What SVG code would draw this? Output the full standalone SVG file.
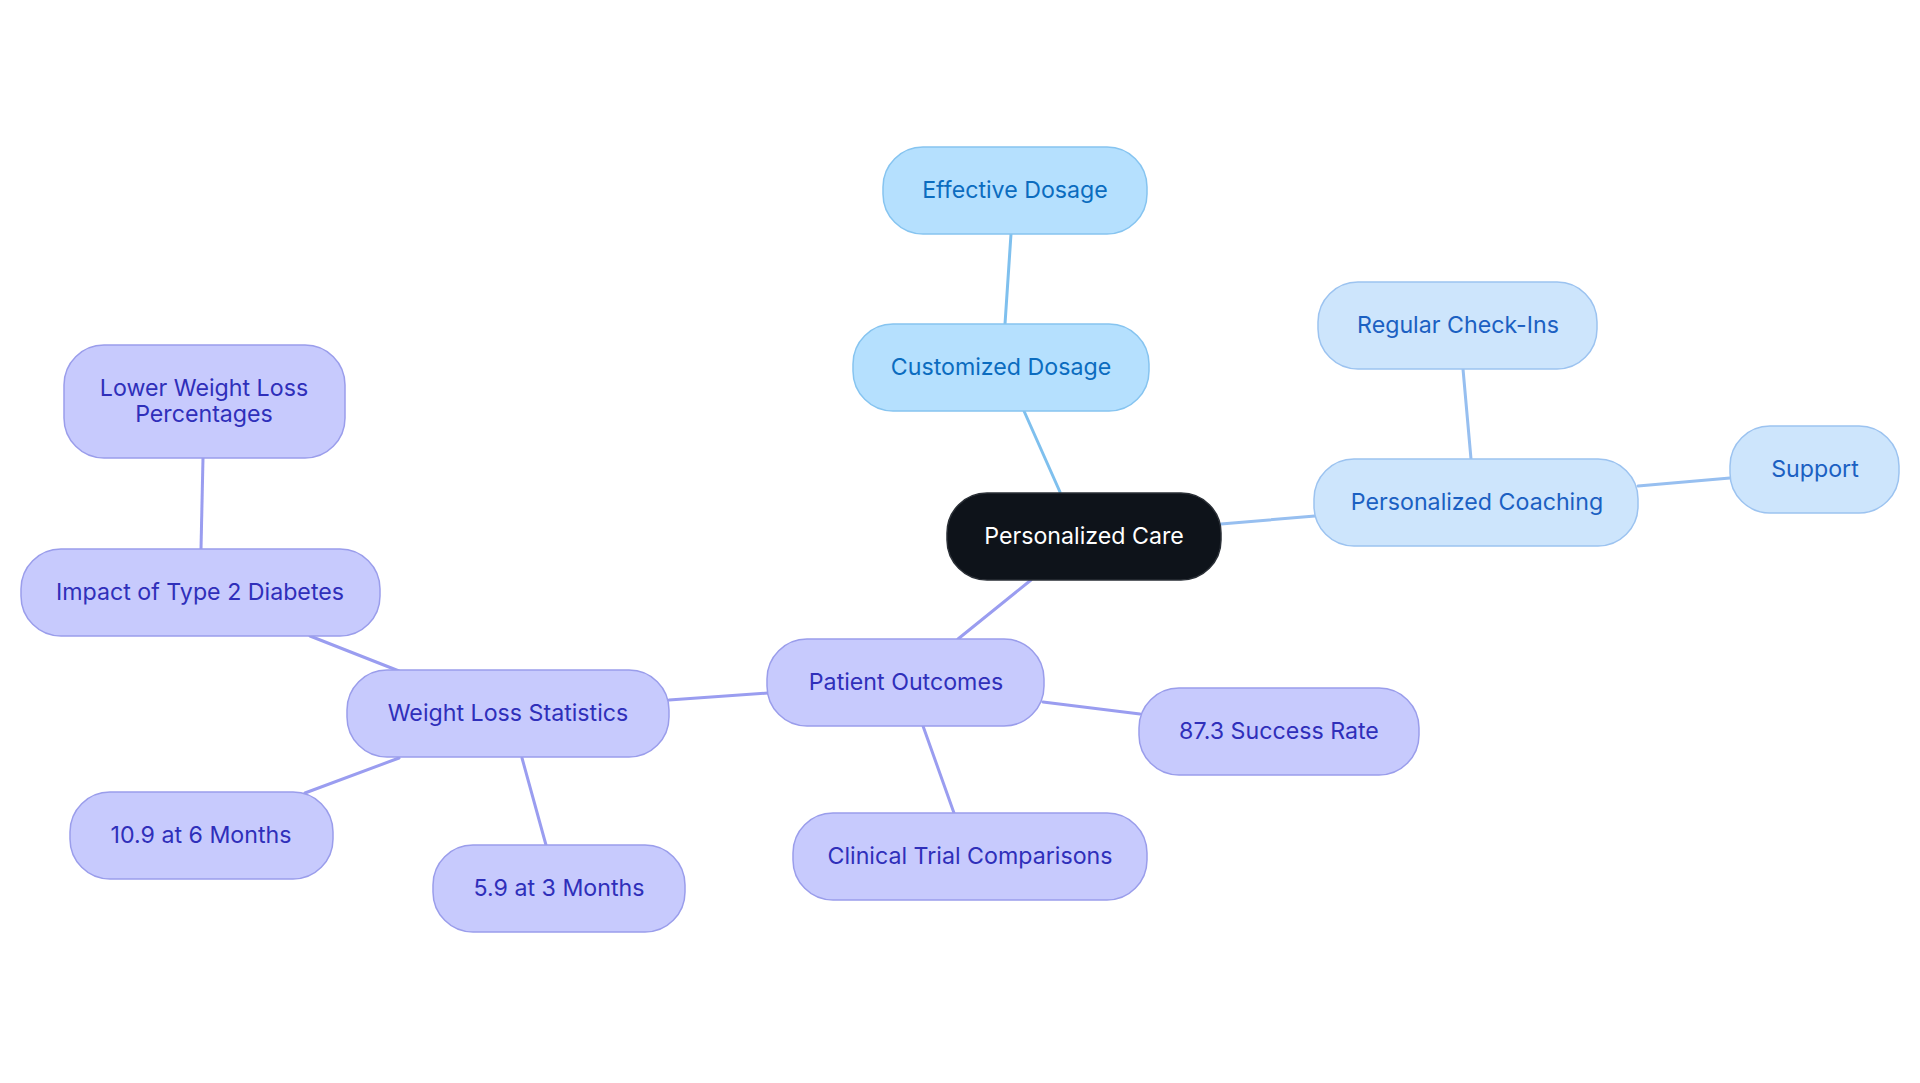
<svg xmlns="http://www.w3.org/2000/svg" width="1920" height="1083" viewBox="0 0 1920 1083">
<style>
text{font-family:Inter,"Noto Sans","Liberation Sans",sans-serif;font-size:23.2px;text-anchor:middle}
.b rect{fill:#b5e0fe;stroke:#86c4f0;stroke-width:1.5}
.b text{fill:#0b6cbf}
.c rect{fill:#cde5fc;stroke:#9cc3f0;stroke-width:1.5}
.c text{fill:#1b60c2}
.p rect{fill:#c7cafd;stroke:#9a9deb;stroke-width:1.5}
.p text{fill:#2f2fba}
.r rect{fill:#0e131a;stroke:#2a2f36;stroke-width:1.5}
.r text{fill:#ffffff}
#edges line{stroke-width:3;stroke-linecap:round}
.eb{stroke:#7fc0ee}
.ec{stroke:#97bff0}
.ep{stroke:#9a9df0}
</style>
<rect width="1920" height="1083" fill="#ffffff"/>
<g id="edges">
<line class="eb" x1="1011" y1="234" x2="1005" y2="324"/>
<line class="eb" x1="1024" y1="411" x2="1060" y2="492"/>
<line class="ec" x1="1221" y1="524" x2="1315" y2="516"/>
<line class="ec" x1="1463" y1="369" x2="1471" y2="459"/>
<line class="ec" x1="1638" y1="486" x2="1730" y2="478"/>
<line class="ep" x1="1031" y1="580" x2="958" y2="639"/>
<line class="ep" x1="1043" y1="702" x2="1140" y2="714"/>
<line class="ep" x1="923" y1="726" x2="954" y2="813"/>
<line class="ep" x1="768" y1="693" x2="669" y2="700"/>
<line class="ep" x1="399" y1="671" x2="310" y2="636"/>
<line class="ep" x1="201" y1="549" x2="203" y2="458"/>
<line class="ep" x1="399" y1="758" x2="305" y2="793"/>
<line class="ep" x1="522" y1="758" x2="546" y2="845"/>
</g>
<g id="n-effective" class="b"><rect x="883" y="147" width="264" height="87" rx="40"/><text x="1015" y="197.5">Effective Dosage</text></g>
<g id="n-customized" class="b"><rect x="853" y="324" width="296" height="87" rx="40"/><text x="1001" y="374.5">Customized Dosage</text></g>
<g id="n-root" class="r"><rect x="947" y="493" width="274" height="87" rx="40"/><text x="1084" y="543.5">Personalized Care</text></g>
<g id="n-checkins" class="c"><rect x="1318" y="282" width="279" height="87" rx="40"/><text x="1458" y="332.5">Regular Check-Ins</text></g>
<g id="n-coaching" class="c"><rect x="1314" y="459" width="324" height="87" rx="40"/><text x="1477" y="509.5">Personalized Coaching</text></g>
<g id="n-support" class="c"><rect x="1730" y="426" width="169" height="87" rx="40"/><text x="1815" y="476.5">Support</text></g>
<g id="n-outcomes" class="p"><rect x="767" y="639" width="277" height="87" rx="40"/><text x="906" y="689.5">Patient Outcomes</text></g>
<g id="n-success" class="p"><rect x="1139" y="688" width="280" height="87" rx="40"/><text x="1279" y="738.5">87.3 Success Rate</text></g>
<g id="n-clinical" class="p"><rect x="793" y="813" width="354" height="87" rx="40"/><text x="970" y="863.5">Clinical Trial Comparisons</text></g>
<g id="n-wls" class="p"><rect x="347" y="670" width="322" height="87" rx="40"/><text x="508" y="720.5">Weight Loss Statistics</text></g>
<g id="n-impact" class="p"><rect x="21" y="549" width="359" height="87" rx="40"/><text x="200" y="599.5">Impact of Type 2 Diabetes</text></g>
<g id="n-lower" class="p"><rect x="64" y="345" width="281" height="113" rx="40"/><text x="204" y="395.5">Lower Weight Loss</text><text x="204" y="422">Percentages</text></g>
<g id="n-6m" class="p"><rect x="70" y="792" width="263" height="87" rx="40"/><text x="201" y="842.5">10.9 at 6 Months</text></g>
<g id="n-3m" class="p"><rect x="433" y="845" width="252" height="87" rx="40"/><text x="559" y="895.5">5.9 at 3 Months</text></g>
</svg>
